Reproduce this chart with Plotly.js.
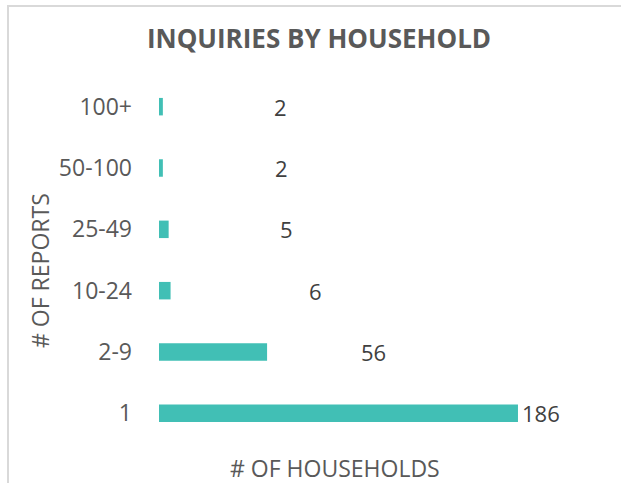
<!DOCTYPE html>
<html>
<head>
<meta charset="utf-8">
<script src="https://cdn.plot.ly/plotly-3.0.1.min.js"></script>
<style>
  html, body { margin: 0; padding: 0; background: #ffffff; }
  #wrap { position: relative; width: 621px; height: 483px; overflow: hidden; }
  #chart { position: absolute; left: 0; top: 0; width: 621px; height: 483px; }
  #frame { position: absolute; left: 7px; top: 5px; width: 700px; height: 600px;
           border-left: 2px solid #d9d9d9; border-top: 2px solid #d9d9d9; pointer-events: none; }
</style>
</head>
<body>
<div id="wrap">
  <div id="chart"></div>
  <div id="frame"></div>
</div>
<script>
// ---- data ----
const categories = ["1", "2-9", "10-24", "25-49", "50-100", "100+"];
const households = [186, 56, 6, 5, 2, 2];
const titleText = "INQUIRIES BY HOUSEHOLD";
const xTitleText = "# OF HOUSEHOLDS";
const yTitleText = "# OF REPORTS";

// ---- label placement (positions, in axis units, as laid out in the original) ----
const labelX = [197.8, 111.2, 81.3, 66.0, 63.7, 63.2];

const fontFamily = "'Open Sans', 'Noto Sans', sans-serif";

const trace = {
  type: "bar",
  orientation: "h",
  y: categories,
  x: households,
  marker: { color: "#41bfb5" },
  hoverinfo: "x+y"
};

const dataLabels = categories.map((c, i) => ({
  x: labelX[i], y: i, xref: "x", yref: "y",
  text: String(households[i]),
  showarrow: false, xanchor: "center", yanchor: "middle",
  font: { family: fontFamily, size: 22, color: "#404040" }
}));

const layout = {
  width: 621, height: 483,
  margin: { l: 159, r: 76, t: 76, b: 39, pad: 0 },
  paper_bgcolor: "#ffffff", plot_bgcolor: "#ffffff",
  showlegend: false,
  bargap: 0.715,
  title: {
    text: "<b>" + titleText + "</b>",
    x: 319 / 621, xref: "container", xanchor: "center",
    y: 1 - 39 / 483, yref: "container", yanchor: "middle",
    font: { family: fontFamily, size: 26, color: "#595959" }
  },
  xaxis: {
    range: [0, 200], showgrid: false, zeroline: false, showline: false,
    showticklabels: false, ticks: "", fixedrange: true
  },
  yaxis: {
    type: "category", categoryorder: "array", categoryarray: categories,
    range: [-0.5, 5.5], showgrid: false, zeroline: false, showline: false,
    ticks: "", ticklabelstandoff: 26, fixedrange: true,
    tickfont: { family: fontFamily, size: 23, color: "#595959" }
  },
  annotations: dataLabels
};

Plotly.newPlot("chart", [trace], layout, { displayModeBar: false, staticPlot: true }).then(() => {
  // axis titles placed as in the original, converted from container pixels to paper coords
  const sz = document.getElementById("chart")._fullLayout._size;
  const toPaperX = px => (px - sz.l) / sz.w;
  const toPaperY = py => 1 - (py - sz.t) / sz.h;
  const upd = dataLabels.slice();
  upd.push({
    x: toPaperX(40), y: toPaperY(271), xref: "paper", yref: "paper",
    text: yTitleText, showarrow: false, textangle: -90,
    xanchor: "center", yanchor: "middle",
    font: { family: fontFamily, size: 23, color: "#595959" }
  });
  upd.push({
    x: toPaperX(335), y: toPaperY(468), xref: "paper", yref: "paper",
    text: xTitleText, showarrow: false, xanchor: "center", yanchor: "middle",
    font: { family: fontFamily, size: 23, color: "#595959" }
  });
  Plotly.relayout("chart", { annotations: upd });
});
</script>
</body>
</html>
